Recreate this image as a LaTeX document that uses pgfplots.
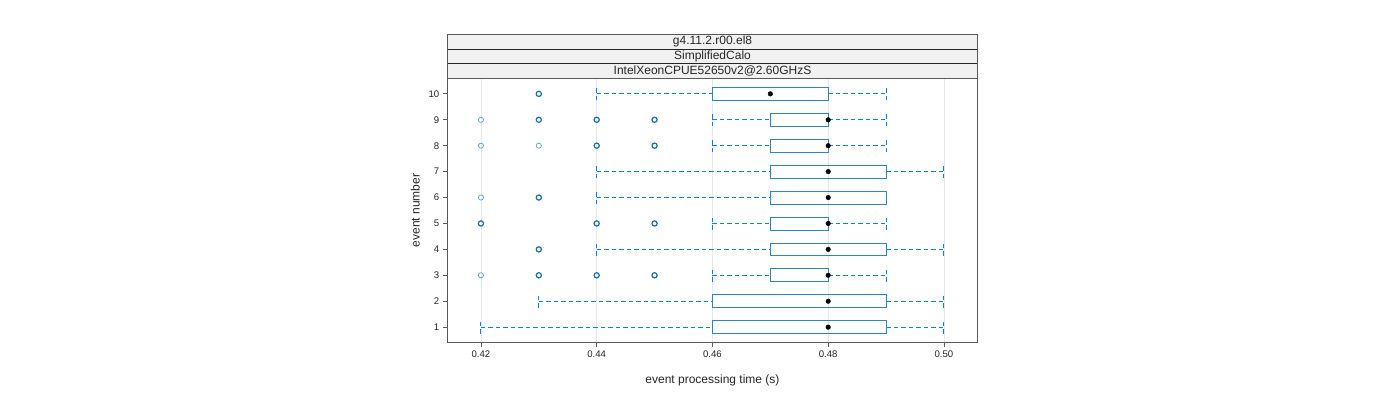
\documentclass[border=0pt]{standalone}
\usepackage{pgfplots}
\pgfplotsset{compat=1.18}
\usepgfplotslibrary{statistics}
\usepackage{fontspec}
\setmainfont{Liberation Sans}
\definecolor{boxc}{RGB}{40,135,200}
\definecolor{whc}{RGB}{0,128,255}
\definecolor{outc}{RGB}{20,110,180}
\definecolor{stripbg}{RGB}{241,241,241}

\begin{document}
\begin{tikzpicture}[x=1pt,y=1pt]
\useasboundingbox (0,0) rectangle (1400,400);
\begin{axis}[name=main, at={(447.3pt,57.3pt)}, anchor=south west, scale only axis,
 width=530.4pt, height=264.4pt,
 xmin=0.41418, xmax=0.50582, ymin=0.4, ymax=10.6,
 xtick={0.42,0.44,0.46,0.48,0.50}, xticklabels={0.42,0.44,0.46,0.48,0.50},
 ytick={1,2,3,4,5,6,7,8,9,10},
 tick pos=left, tick align=outside, major tick length=4.5pt,
 axis line style={black!65, line width=0.8pt}, tick style={black!65, line width=0.8pt},
 xmajorgrids, grid style={gray!18, line width=0.6pt},
 ticklabel style={font=\fontsize{9.6}{11}\selectfont, text=black!85},
 /pgf/number format/assume math mode=true,
 xlabel={event processing time (s)}, ylabel={event number},
 every axis x label/.style={at={(axis description cs:0.5,0)}, yshift=-37.3pt, anchor=center,
   font=\fontsize{12}{14}\selectfont, text=black!85},
 every axis y label/.style={at={(axis description cs:0,0.5)}, xshift=-32pt, rotate=90, anchor=center,
   font=\fontsize{12}{14}\selectfont, text=black!85},
 boxplot/draw direction=x,
 boxplot/box extend=0.5,
 boxplot/every box/.style={draw=boxc, line width=0.8pt, solid},
 boxplot/draw/lower whisker/.code={},
 boxplot/draw/upper whisker/.code={},
 boxplot/draw/median/.code={},
 unbounded coords=jump,
 clip=false,
]
\pgfplotsset{bx/.style={draw=boxc, line width=0.8pt, solid, mark=none}}
% whisker lines (lower whisker to Q1, Q3 to upper whisker)
\addplot[draw=whc, line width=1pt, dash pattern=on 4.5pt off 3pt, mark=none] coordinates {
(0.42,1) (0.46,1) (nan,nan) (0.49,1) (0.50,1) (nan,nan)
(0.43,2) (0.46,2) (nan,nan) (0.49,2) (0.50,2) (nan,nan)
(0.46,3) (0.47,3) (nan,nan) (0.48,3) (0.49,3) (nan,nan)
(0.44,4) (0.47,4) (nan,nan) (0.49,4) (0.50,4) (nan,nan)
(0.46,5) (0.47,5) (nan,nan) (0.48,5) (0.49,5) (nan,nan)
(0.44,6) (0.47,6) (nan,nan)
(0.44,7) (0.47,7) (nan,nan) (0.49,7) (0.50,7) (nan,nan)
(0.46,8) (0.47,8) (nan,nan) (0.48,8) (0.49,8) (nan,nan)
(0.46,9) (0.47,9) (nan,nan) (0.48,9) (0.49,9) (nan,nan)
(0.44,10) (0.46,10) (nan,nan) (0.48,10) (0.49,10)
};
% whisker end caps
\addplot[draw=whc, line width=1pt, dash pattern=on 4.5pt off 3pt, mark=none] coordinates {
(0.42,0.75) (0.42,1.25) (nan,nan) (0.50,0.75) (0.50,1.25) (nan,nan)
(0.43,1.75) (0.43,2.25) (nan,nan) (0.50,1.75) (0.50,2.25) (nan,nan)
(0.46,2.75) (0.46,3.25) (nan,nan) (0.49,2.75) (0.49,3.25) (nan,nan)
(0.44,3.75) (0.44,4.25) (nan,nan) (0.50,3.75) (0.50,4.25) (nan,nan)
(0.46,4.75) (0.46,5.25) (nan,nan) (0.49,4.75) (0.49,5.25) (nan,nan)
(0.44,5.75) (0.44,6.25) (nan,nan)
(0.44,6.75) (0.44,7.25) (nan,nan) (0.50,6.75) (0.50,7.25) (nan,nan)
(0.46,7.75) (0.46,8.25) (nan,nan) (0.49,7.75) (0.49,8.25) (nan,nan)
(0.46,8.75) (0.46,9.25) (nan,nan) (0.49,8.75) (0.49,9.25) (nan,nan)
(0.44,9.75) (0.44,10.25) (nan,nan) (0.49,9.75) (0.49,10.25)
};
% boxes (Q1 to Q3) for events 1..10
\addplot[bx, boxplot prepared={draw position=1, lower whisker=0.42, lower quartile=0.46, median=0.48, upper quartile=0.49, upper whisker=0.50}] coordinates {};
\addplot[bx, boxplot prepared={draw position=2, lower whisker=0.43, lower quartile=0.46, median=0.48, upper quartile=0.49, upper whisker=0.50}] coordinates {};
\addplot[bx, boxplot prepared={draw position=3, lower whisker=0.46, lower quartile=0.47, median=0.48, upper quartile=0.48, upper whisker=0.49}] coordinates {};
\addplot[bx, boxplot prepared={draw position=4, lower whisker=0.44, lower quartile=0.47, median=0.48, upper quartile=0.49, upper whisker=0.50}] coordinates {};
\addplot[bx, boxplot prepared={draw position=5, lower whisker=0.46, lower quartile=0.47, median=0.48, upper quartile=0.48, upper whisker=0.49}] coordinates {};
\addplot[bx, boxplot prepared={draw position=6, lower whisker=0.44, lower quartile=0.47, median=0.48, upper quartile=0.49, upper whisker=0.49}] coordinates {};
\addplot[bx, boxplot prepared={draw position=7, lower whisker=0.44, lower quartile=0.47, median=0.48, upper quartile=0.49, upper whisker=0.50}] coordinates {};
\addplot[bx, boxplot prepared={draw position=8, lower whisker=0.46, lower quartile=0.47, median=0.48, upper quartile=0.48, upper whisker=0.49}] coordinates {};
\addplot[bx, boxplot prepared={draw position=9, lower whisker=0.46, lower quartile=0.47, median=0.48, upper quartile=0.48, upper whisker=0.49}] coordinates {};
\addplot[bx, boxplot prepared={draw position=10, lower whisker=0.44, lower quartile=0.46, median=0.47, upper quartile=0.48, upper whisker=0.49}] coordinates {};
% medians
\addplot[only marks, mark=*, mark size=2.3pt, black, mark options={fill=black}] coordinates {
(0.48,1) (0.48,2) (0.48,3) (0.48,4) (0.48,5) (0.48,6) (0.48,7) (0.48,8) (0.48,9) (0.47,10)};
% outliers (single)
\addplot[only marks, mark=o, mark size=2.6pt, draw=boxc!80, mark options={line width=0.7pt}] coordinates {
(0.42,9) (0.42,8) (0.43,8) (0.42,6) (0.42,3)};
% outliers (repeated)
\addplot[only marks, mark=o, mark size=2.6pt, draw=outc, mark options={line width=1.2pt}] coordinates {
(0.43,10) (0.43,9) (0.44,9) (0.45,9) (0.44,8) (0.45,8) (0.43,6)
(0.42,5) (0.44,5) (0.45,5) (0.43,4) (0.43,3) (0.44,3) (0.45,3)};
% top ticks above strips
\pgfplotsinvokeforeach{0.42,0.44,0.46,0.48,0.50}{
  \draw[black!65, line width=0.8pt] (axis cs:#1,10.6) ++(0,44pt) -- ++(0,5.3pt);
}
\end{axis}
% strips
\fill[stripbg] (447.3,321.7) rectangle (977.7,365.7);
\draw[black!85, line width=0.8pt] (447.3,336.3) -- (977.7,336.3);
\draw[black!85, line width=0.8pt] (447.3,350.7) -- (977.7,350.7);
\draw[black!65, line width=0.8pt] (447.3,321.7) rectangle (977.7,365.7);
\node[font=\fontsize{12}{14}\selectfont, text=black!85] at (712.5,358.2) {g4.11.2.r00.el8};
\node[font=\fontsize{12}{14}\selectfont, text=black!85] at (712.5,343.5) {SimplifiedCalo};
\node[font=\fontsize{12}{14}\selectfont, text=black!85] at (712.5,329.0) {IntelXeonCPUE52650v2@2.60GHzS};
\end{tikzpicture}
\end{document}
